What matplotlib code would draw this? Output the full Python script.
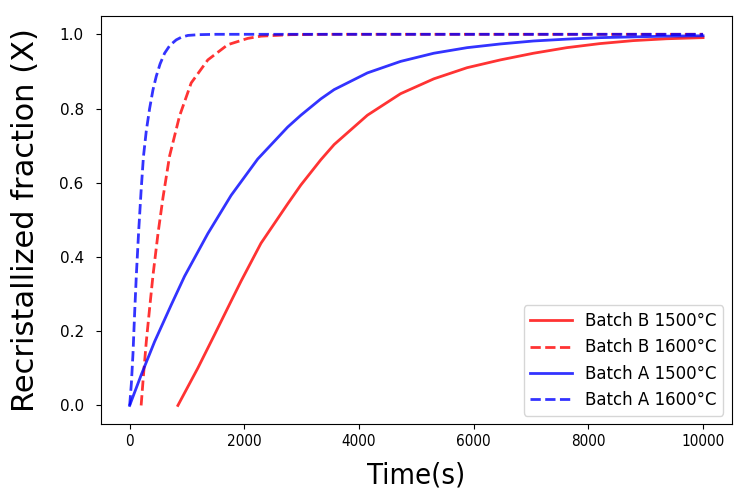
import numpy as np
import matplotlib
matplotlib.use("Agg")
import matplotlib.pyplot as plt

# values (time in s, recrystallized fraction)
t_b1500 = [841, 1190, 1478, 1769, 1943, 2290, 2755, 2986, 3334, 3566, 4146, 4725, 5304, 5884, 6464, 7043, 7623, 8203, 8783, 9363, 10000]
x_b1500 = [0.0, 0.101, 0.190, 0.281, 0.335, 0.437, 0.543, 0.594, 0.662, 0.703, 0.782, 0.840, 0.880, 0.910, 0.931, 0.949, 0.964, 0.975, 0.983, 0.988, 0.991]

t_b1600 = [200, 240, 290, 348, 407, 494, 581, 696, 870, 1073, 1363, 1711, 2059, 2290, 2800, 3500, 10000]
x_b1600 = [0.0, 0.080, 0.172, 0.262, 0.351, 0.463, 0.560, 0.672, 0.780, 0.869, 0.931, 0.972, 0.989, 0.995, 0.999, 1.0, 1.0]

t_a1500 = [0, 203, 435, 725, 957, 1363, 1769, 2233, 2755, 2986, 3334, 3566, 4146, 4725, 5304, 5884, 6464, 7043, 7623, 8203, 8783, 9363, 10000]
x_a1500 = [0.0, 0.083, 0.172, 0.271, 0.348, 0.463, 0.566, 0.664, 0.750, 0.782, 0.826, 0.851, 0.896, 0.927, 0.949, 0.964, 0.974, 0.982, 0.987, 0.991, 0.993, 0.995, 0.996]

t_a1600 = [0, 30, 58, 87, 116, 157, 200, 240, 290, 348, 406, 464, 530, 609, 700, 812, 900, 1016, 1200, 1500, 10000]
x_a1600 = [0.0, 0.06, 0.14, 0.25, 0.35, 0.47, 0.58, 0.67, 0.74, 0.80, 0.85, 0.887, 0.92, 0.949, 0.970, 0.985, 0.992, 0.997, 0.999, 1.0, 1.0]

fig = plt.figure(figsize=(7.34, 5.0), dpi=100)
ax = fig.add_axes([0.1376, 0.152, 0.8593, 0.8165])

ax.plot(t_b1500, x_b1500, color='red', alpha=0.8, lw=2, label="Batch B 1500°C")
ax.plot(t_b1600, x_b1600, color='red', alpha=0.8, lw=2, ls='--', label="Batch B 1600°C")
ax.plot(t_a1500, x_a1500, color='blue', alpha=0.8, lw=2, label="Batch A 1500°C")
ax.plot(t_a1600, x_a1600, color='blue', alpha=0.8, lw=2, ls='--', label="Batch A 1600°C")

ax.set_xlabel("Time(s)", fontsize=21, fontstretch='condensed', labelpad=9)
ax.set_ylabel("Recristallized fraction (X)", fontsize=22, labelpad=14)
ax.tick_params(labelsize=11)
ax.tick_params(axis='y', pad=9)
for lab in ax.get_xticklabels():
    lab.set_fontstretch('condensed')
ax.legend(loc='lower right', fontsize=12, handlelength=2.5)

fig.savefig("out.png", dpi=100)
